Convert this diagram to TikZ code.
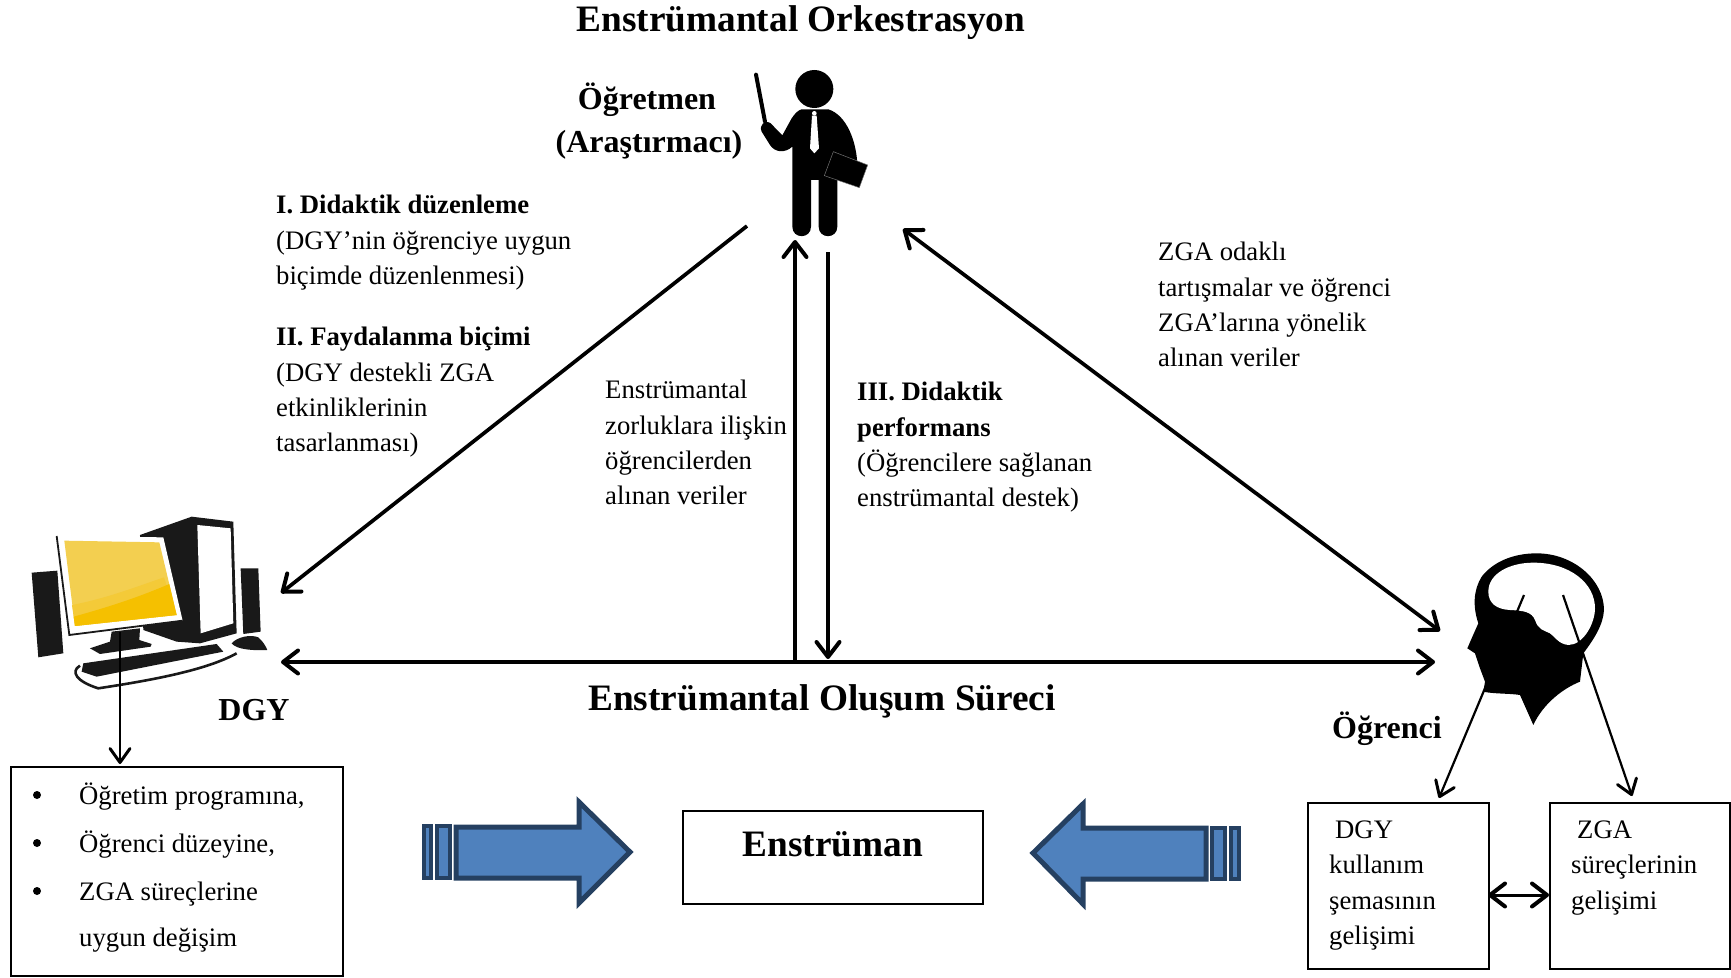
\documentclass[tikz,border=0pt]{standalone}
\usepackage{fontspec}
\setmainfont{Liberation Serif}
\usetikzlibrary{arrows.meta}
\definecolor{blockfill}{HTML}{4F81BD}
\definecolor{blockedge}{HTML}{254061}
\definecolor{screenlight}{HTML}{F3CF50}
\definecolor{screenmid}{HTML}{F4CA38}
\definecolor{screendeep}{HTML}{F5C000}
\tikzset{
  x=1pt,y=-1pt,
  body/.style={font=\fontsize{26.7}{35.3}\selectfont,align=left,anchor=north west,inner sep=0pt},
  listtext/.style={font=\fontsize{26.7}{30}\selectfont,anchor=base west,inner sep=0pt},
  boldlabel/.style={font=\fontsize{#1}{#1}\selectfont\bfseries,inner sep=0pt,anchor=base},
  bigbold/.style={boldlabel=37.3},
  midbold/.style={boldlabel=32},
  Chevron/.tip={Straight Barb[length=15pt,width=23pt,line width=4pt,round]},
  SmallChevron/.tip={Straight Barb[length=14pt,width=20pt,line width=3pt,round]},
  link/.style={line width=3.7pt,-{Chevron}},
  linkboth/.style={line width=3.7pt,{Chevron}-{Chevron}},
  thin link/.style={line width=2.2pt,-{SmallChevron}},
  framebox/.style={draw=black,line width=1.6pt,fill=white,inner sep=0pt,anchor=north west},
  bulletdot/.style={circle,fill=black,inner sep=0pt,minimum size=8pt},
  blockarrow/.style={draw=blockedge,fill=blockfill,line width=5pt,miter limit=10},
  icon/.style={shift={(#1)},x=0.3333pt,y=-0.3333pt},
}
\begin{document}
\begin{tikzpicture}
\useasboundingbox (0,0) rectangle (1731,977);

% headings
\node[bigbold] (title) at (801,31) {Enstrümantal Orkestrasyon};
\node[midbold] (role1) at (647,109) {Öğretmen};
\node[midbold] (role2) at (649,152) {(Araştırmacı)};
\node[bigbold] (process) at (822,710) {Enstrümantal Oluşum Süreci};
\node[midbold] (dgylabel) at (254,720) {DGY};
\node[midbold] (learner) at (1387,738) {Öğrenci};

% teacher figure
\begin{scope}[icon={720,50}]
  \fill (283,117) circle (57);
  \draw[line width=4pt,line cap=round] (108,74) -- (135,215);
  \fill (245,178) -- (325,178) .. controls (380,195) and (410,275) .. (412,345)
    -- (345,320) -- (352,270)
    -- (352,530) .. controls (352,568) and (296,568) .. (296,530)
    -- (296,390) -- (273,390) -- (273,530)
    .. controls (273,568) and (217,568) .. (217,530)
    -- (217,290) .. controls (195,310) and (165,308) .. (150,285)
    -- (125,245) .. controls (116,225) and (135,208) .. (152,220)
    -- (187,256) -- (215,205) .. controls (225,190) and (235,180) .. (245,178) -- cycle;
  \fill[white] (283,190) circle (7);
  \fill[white] (276,197) -- (290,197) -- (297,295) -- (283,310) -- (270,295) -- cycle;
  \draw[fill=black,draw=black!55,line width=0.5pt] (340,305) -- (443,345) -- (418,413) -- (313,377) -- cycle;
\end{scope}

% computer
\begin{scope}[icon={20,500}]
  \fill[black!90] (360,105) -- (515,50) -- (640,65) -- (650,400) -- (540,430) -- (470,425) -- (370,390) -- cycle;
  \fill[white] (532,75) -- (632,85) -- (640,370) -- (542,400) -- cycle;
  \fill[black!90] (35,218) -- (112,212) -- (130,460) -- (55,472) -- cycle;
  \fill[black!90] (662,205) -- (715,205) -- (722,395) -- (670,402) -- cycle;
  \fill[black!90] (275,395) -- (360,385) -- (358,420) -- (395,432) -- (392,440) -- (240,462) -- (210,445) -- (270,425) -- cycle;
  \fill[white] (110,108) -- (430,112) -- (488,362) -- (148,405) -- cycle;
  \draw[black!90,line width=1.8pt] (110,108) -- (148,405) -- (488,362);
  \fill[screenlight] (133,122) -- (418,127) -- (470,345) -- (165,378) -- cycle;
  \fill[screenmid] (156,315) .. controls (260,295) and (350,260) .. (432,232) -- (470,345) -- (165,378) -- cycle;
  \fill[screendeep] (161,350) .. controls (270,320) and (360,290) .. (448,252) -- (470,345) -- (165,378) -- cycle;
  \fill[black!90] (190,490) -- (590,432) -- (610,455) -- (230,530) -- (185,515) -- cycle;
  \draw[black!90,line width=2.6pt] (180,497) .. controls (150,515) and (170,545) .. (235,565)
    .. controls (400,540) and (560,510) .. (650,460);
  \fill[black!90] (635,430) .. controls (650,412) and (690,402) .. (715,412)
    .. controls (730,425) and (738,440) .. (742,450)
    .. controls (705,452) and (650,450) .. (635,430) -- cycle;
\end{scope}

% learner head
\begin{scope}[icon={1430,540}]
  \fill (310,555) -- (270,465) .. controls (240,460) and (190,462) .. (160,455)
    -- (165,425) -- (150,385) -- (135,340) -- (112,325) -- (125,295) -- (145,250)
    .. controls (128,200) and (130,150) .. (155,110)
    .. controls (190,65) and (250,40) .. (320,40)
    .. controls (430,40) and (522,120) .. (522,210)
    .. controls (520,255) and (490,300) .. (460,340)
    -- (450,425) .. controls (400,445) and (340,490) .. (310,555) -- cycle;
  \fill[white] (175,155) .. controls (175,100) and (240,68) .. (310,68)
    .. controls (420,68) and (495,130) .. (495,205)
    .. controls (495,250) and (460,315) .. (415,315)
    .. controls (385,312) and (375,290) .. (360,280)
    .. controls (340,270) and (325,270) .. (315,240)
    .. controls (305,215) and (280,212) .. (240,210)
    .. controls (200,208) and (175,190) .. (175,155) -- cycle;
\end{scope}

% boxes
\node[framebox,minimum width=332pt,minimum height=209pt] (listbox) at (10,766) {};
\node[framebox,minimum width=300pt,minimum height=93pt] (instrument) at (682,810) {};
\node[framebox,minimum width=181pt,minimum height=166pt] (schemebox) at (1307,802) {};
\node[framebox,minimum width=180pt,minimum height=166pt] (zgabox) at (1549,802) {};

% anchor points of the connectors
\coordinate (teacherL) at (747,226);
\coordinate (dgyR) at (281,593);
\coordinate (axisUp) at (795,662);
\coordinate (teacherUp) at (795,240);
\coordinate (teacherDown) at (828,252);
\coordinate (axisDown) at (828,659);
\coordinate (teacherR) at (903,229);
\coordinate (headL) at (1440,631);
\coordinate (axisL) at (281,662);
\coordinate (axisR) at (1435,662);
\coordinate (screenBase) at (120,632);
\coordinate (listTop) at (120,764);
\coordinate (headA) at (1524,595);
\coordinate (schemeTop) at (1439,798);
\coordinate (headB) at (1563,595);
\coordinate (zgaTop) at (1632,796);
\coordinate (pairL) at (1488,895);
\coordinate (pairR) at (1549,895);

% connectors
\draw[link] (teacherL) -- (dgyR);
\draw[link] (axisUp) -- (teacherUp);
\draw[link] (teacherDown) -- (axisDown);
\draw[linkboth] (teacherR) -- (headL);
\draw[linkboth] (axisL) -- (axisR);
\draw[thin link] (screenBase) -- (listTop);
\draw[thin link] (headA) -- (schemeTop);
\draw[thin link] (headB) -- (zgaTop);
\draw[linkboth,line width=3pt] (pairL) -- (pairR);

% annotations
\node[body] (note1) at (276,195) {\textbf{I. Didaktik düzenleme}\\(DGY’nin öğrenciye uygun\\biçimde düzenlenmesi)};
\node[body] (note2) at (276,327) {\textbf{II. Faydalanma biçimi}\\(DGY destekli ZGA\\etkinliklerinin\\tasarlanması)};
\node[body] (note3) at (1158,242) {ZGA odaklı\\tartışmalar ve öğrenci\\ZGA’larına yönelik\\alınan veriler};
\node[body] (note4) at (605,380) {Enstrümantal\\zorluklara ilişkin\\öğrencilerden\\alınan veriler};
\node[body] (note5) at (857,382) {\textbf{III. Didaktik}\\\textbf{performans}\\(Öğrencilere sağlanan\\enstrümantal destek)};

% list box contents
\node[bulletdot] (dot1) at (37,795) {};
\node[bulletdot] (dot2) at (37,843) {};
\node[bulletdot] (dot3) at (37,891) {};
\node[listtext] (item1) at (79,804) {Öğretim programına,};
\node[listtext] (item2) at (79,852) {Öğrenci düzeyine,};
\node[listtext] (item3) at (79,900) {ZGA süreçlerine};
\node[listtext] (item4) at (79,946) {uygun değişim};

% central box and side box contents
\node[midbold,font=\fontsize{37.3}{37.3}\selectfont\bfseries] (instrumentname) at (833,856) {Enstrüman};
\node[body] (scheme1) at (1335,821) {DGY};
\node[body] (scheme2) at (1329,855) {kullanım\\şemasının\\gelişimi};
\node[body] (zga1) at (1577,821) {ZGA};
\node[body] (zga2) at (1571,855) {süreçlerinin\\gelişimi};

% block arrows pointing at the central box
\draw[blockarrow] (456,827) -- (579,827) -- (579,802) -- (630,852) -- (579,903) -- (579,878) -- (456,878) -- cycle;
\draw[blockarrow,line width=4.5pt] (437,826) rectangle (450,878);
\draw[blockarrow,line width=4.5pt] (424,826) rectangle (431,878);
\draw[blockarrow] (1206,828) -- (1083,828) -- (1083,804) -- (1033,853) -- (1083,904) -- (1083,879) -- (1206,879) -- cycle;
\draw[blockarrow,line width=4.5pt] (1212,828) rectangle (1225,879);
\draw[blockarrow,line width=4.5pt] (1231,828) rectangle (1239,879);
\end{tikzpicture}
\end{document}
